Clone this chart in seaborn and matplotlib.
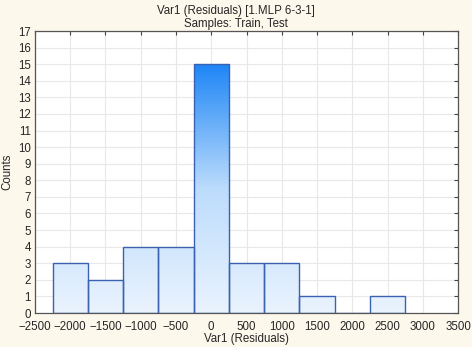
import numpy as np
import matplotlib
matplotlib.use("Agg")
import matplotlib.pyplot as plt
import seaborn as sns
from matplotlib.colors import LinearSegmentedColormap

# histogram of residuals: bin edges and counts
bin_edges = [-2250, -1750, -1250, -750, -250, 250, 750, 1250, 1750, 2250, 2750]
bin_centers = [-2000, -1500, -1000, -500, 0, 500, 1000, 1500, 2000, 2500]
counts = [3, 2, 4, 4, 15, 3, 3, 1, 0, 1]

x_ticks = list(range(-2500, 3501, 500))
y_ticks = list(range(0, 18))

BG = "#fdf8ec"
EDGE = "#3a62b0"

sns.set_style("white")
plt.rcParams["font.family"] = ["Liberation Sans", "DejaVu Sans"]

fig = plt.figure(figsize=(4.72, 3.47), dpi=100, facecolor=BG)
ax = fig.add_axes([35 / 472, 1 - 313 / 347, (458 - 35) / 472, (313 - 31) / 347])
ax.set_facecolor("white")

sns.histplot(x=bin_centers, weights=counts, bins=bin_edges, ax=ax,
             color="white", edgecolor=EDGE, linewidth=1.0, alpha=1.0, zorder=2)

ax.set_xlim(-2500, 3500)
ax.set_ylim(0, 17)

# vertical gradient fill clipped to each bar
cmap = LinearSegmentedColormap.from_list("blu", ["#eaf3fe", "#bcdcfc", "#1e86f6"])
grad = np.linspace(0, 1, 256).reshape(-1, 1)
for p in ax.patches:
    if p.get_height() <= 0:
        continue
    im = ax.imshow(grad, cmap=cmap, aspect="auto", origin="lower",
                   extent=[-2500, 3500, 0, 15], zorder=2.5, interpolation="bilinear")
    im.set_clip_path(p)
    p.set_facecolor("none")
    p.set_zorder(3)
ax.set_xlim(-2500, 3500)
ax.set_ylim(0, 17)

ax.set_xticks(x_ticks)
ax.set_yticks(y_ticks)
ax.grid(True, color="#e8e8e8", linewidth=0.8, zorder=0)
ax.set_axisbelow(True)
ax.tick_params(direction="in", length=3, labelsize=8.3, top=True, right=True,
               color="#444444", pad=3)
ax.tick_params(axis="x", pad=5.5)
for s in ax.spines.values():
    s.set_color("#555555")
    s.set_linewidth(0.9)

ax.set_xlabel("Var1 (Residuals)", fontsize=8.3, labelpad=0)
ax.set_ylabel("Counts", fontsize=8.3, labelpad=3)
fig.suptitle("Var1 (Residuals) [1.MLP 6-3-1]\nSamples: Train, Test",
             fontsize=8.3, y=0.985, linespacing=1.05)

fig.savefig("out.png", dpi=100, facecolor=BG)
